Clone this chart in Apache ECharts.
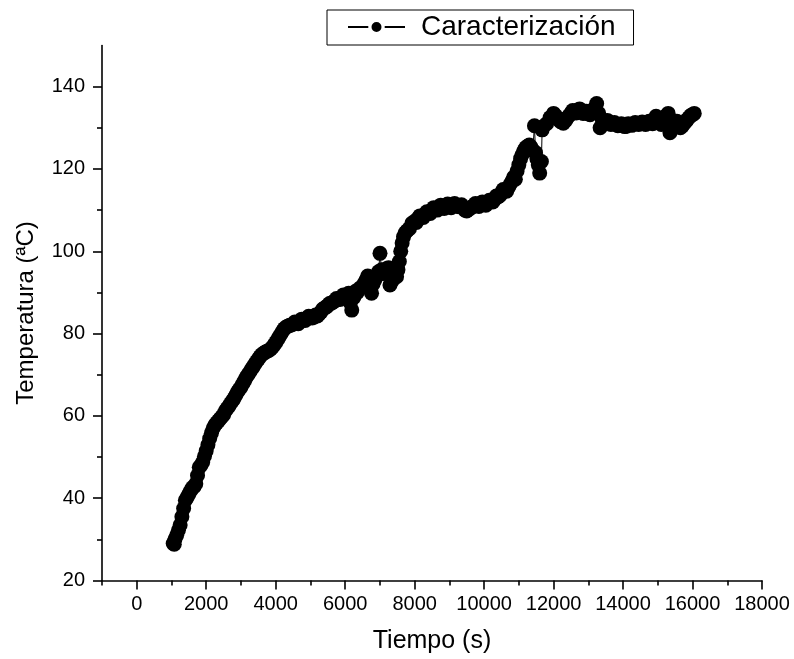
<!DOCTYPE html>
<html>
<head>
<meta charset="utf-8">
<script src="https://cdn.jsdelivr.net/npm/echarts@6/dist/echarts.min.js"></script>
<style>
  html, body { margin: 0; padding: 0; background: #fff; }
  #chart { width: 794px; height: 659px; }
</style>
</head>
<body>
<div id="chart"></div>
<script>
// Heating run: elapsed time (s) and measured temperature (ºC)
const tiempo = [
  1050, 1080, 1100, 1150, 1200, 1250, 1300, 1350, 1400, 1450,
  1500, 1550, 1600, 1650, 1700, 1750, 1800, 1850, 1900, 1950,
  2000, 2050, 2100, 2150, 2200, 2250, 2300, 2350, 2400, 2450,
  2500, 2550, 2600, 2650, 2700, 2750, 2800, 2850, 2900, 2950,
  3000, 3050, 3100, 3150, 3200, 3250, 3300, 3350, 3400, 3450,
  3500, 3550, 3600, 3650, 3700, 3750, 3800, 3850, 3900, 3950,
  4000, 4050, 4100, 4150, 4200, 4250, 4300, 4350, 4400, 4450,
  4500, 4550, 4600, 4650, 4700, 4750, 4800, 4850, 4900, 4950,
  5000, 5050, 5100, 5150, 5200, 5250, 5300, 5350, 5400, 5450,
  5500, 5550, 5600, 5650, 5700, 5750, 5800, 5850, 5900, 5950,
  6000, 6050, 6100, 6150, 6190, 6250, 6300, 6350, 6400, 6450,
  6500, 6550, 6600, 6650, 6700, 6760, 6800, 6850, 6900, 6960,
  7003, 7050, 7100, 7150, 7200, 7250, 7290, 7350, 7400, 7480,
  7520, 7560, 7600, 7640, 7680, 7730, 7780, 7850, 7920,
  8000, 8050, 8100, 8150, 8200, 8250, 8300, 8350, 8400, 8450,
  8500, 8550, 8600, 8650, 8700, 8750, 8800, 8850, 8900, 8950,
  9000, 9050, 9100, 9150, 9200, 9250, 9300, 9350, 9400, 9450,
  9500, 9550, 9600, 9650, 9700, 9750, 9800, 9850, 9900, 9950,
  10000, 10050, 10100, 10150, 10200, 10250, 10300, 10350, 10400, 10450,
  10500, 10550, 10600, 10650, 10700, 10750, 10800, 10850, 10900, 10950,
  11000, 11050, 11100, 11150, 11200, 11250, 11300, 11350, 11400, 11450,
  11480, 11520, 11560, 11600, 11650, 11670, 11700, 11800, 11900,
  12000, 12050, 12100, 12150, 12200, 12280, 12350, 12400, 12450, 12500,
  12550, 12600, 12650, 12700, 12750, 12800, 12850, 12900, 12950, 13000,
  13050, 13100, 13150, 13200, 13240, 13300, 13340, 13400, 13450, 13500,
  13550, 13600, 13650, 13700, 13750, 13800, 13850, 13900, 13950, 14000,
  14050, 14100, 14150, 14200, 14250, 14300, 14350, 14400, 14450, 14500,
  14550, 14600, 14650, 14700, 14750, 14800, 14850, 14900, 14950, 15000,
  15050, 15100, 15150, 15200, 15250, 15300, 15350, 15400, 15450, 15500,
  15550, 15600, 15650, 15700, 15750, 15800, 15850, 15900, 15950, 16000,
  16050
];
const temperatura = [
  29.0, 28.8, 30.0, 31.0, 32.2, 33.5, 35.5, 37.5, 39.5, 40.2,
  41.0, 41.8, 42.5, 42.8, 43.5, 45.5, 47.5, 48.0, 48.8, 50.2,
  51.5, 53.0, 54.5, 55.8, 57.0, 57.8, 58.3, 58.8, 59.3, 59.8,
  60.3, 61.2, 61.8, 62.3, 63.0, 63.6, 64.2, 65.0, 65.8, 66.4,
  67.0, 67.8, 68.5, 69.3, 70.0, 70.6, 71.3, 71.9, 72.6, 73.2,
  73.8, 74.4, 74.9, 75.2, 75.5, 75.7, 75.9, 76.2, 76.6, 77.2,
  77.8, 78.5, 79.2, 79.9, 80.6, 81.2, 81.6, 81.8, 82.0, 82.1,
  82.3, 82.8, 82.6, 82.4, 83.0, 83.5, 83.4, 83.2, 83.7, 84.2,
  84.0, 83.8, 84.0, 84.5, 84.3, 84.8, 85.2, 85.9, 86.2, 86.4,
  86.8, 87.3, 87.4, 87.6, 87.9, 88.5, 88.4, 88.3, 88.7, 89.4,
  89.2, 89.0, 89.8, 87.5, 85.7, 88.8, 90.3, 90.0, 90.8, 91.2,
  91.5, 92.2, 93.0, 94.0, 92.5, 89.8, 92.0, 93.0, 93.8, 95.0,
  99.5, 95.5, 94.6, 95.3, 95.8, 96.0, 91.8, 92.8, 93.5, 93.8,
  95.5, 97.5, 100.0, 102.0, 103.5, 104.5, 105.0, 105.5, 106.8,
  107.3, 107.0, 108.0, 108.6, 108.5, 108.2, 109.0, 109.6, 109.5, 109.2,
  110.0, 110.6, 110.3, 110.0, 110.6, 111.2, 110.8, 110.4, 111.0, 111.5,
  111.0, 110.6, 111.2, 111.6, 111.2, 110.9, 110.8, 111.3, 110.5, 110.0,
  109.8, 110.2, 110.4, 110.8, 111.0, 111.6, 111.2, 110.9, 111.3, 112.0,
  111.5, 111.2, 111.8, 112.4, 112.2, 112.0, 112.6, 113.4, 113.2, 113.5,
  114.2, 115.0, 114.8, 114.6, 115.5, 116.3, 117.0, 118.0, 117.5, 119.5,
  121.0, 122.5, 123.5, 124.5, 125.2, 125.5, 125.8, 125.3, 124.5, 130.5,
  124.0, 122.5, 121.0, 119.0, 121.8, 129.5, 130.3, 131.0, 132.5,
  133.5, 133.0, 132.5, 132.0, 131.5, 131.1, 131.8, 132.5, 133.0, 133.5,
  134.2, 134.0, 133.6, 134.3, 134.6, 134.0, 133.5, 133.6, 134.0, 133.4,
  133.2, 133.8, 134.5, 134.8, 135.9, 133.5, 130.0, 132.0, 131.2, 131.6,
  131.8, 131.2, 130.8, 131.0, 131.3, 130.8, 130.5, 130.6, 131.0, 130.7,
  130.3, 130.4, 131.0, 130.8, 130.6, 131.0, 131.3, 131.0, 130.8, 131.1,
  131.4, 131.0, 130.8, 131.2, 131.6, 131.5, 131.0, 132.0, 132.8, 131.5,
  131.9, 130.8, 131.2, 132.5, 133.0, 133.5, 128.8, 131.5, 130.8, 131.2,
  131.6, 130.5, 130.0, 130.4, 131.0, 131.5, 132.0, 132.5, 133.0, 133.2,
  133.5
];

// Axis ticks and labels
const xMajor = [0, 2000, 4000, 6000, 8000, 10000, 12000, 14000, 16000, 18000];
const xMinor = [-1000, 1000, 3000, 5000, 7000, 9000, 11000, 13000, 15000, 17000];
const yMajor = [20, 40, 60, 80, 100, 120, 140];
const yMinor = [30, 50, 70, 90, 110, 130];

const serie = tiempo.map((t, i) => [t, temperatura[i]]);

const FONT = 'Liberation Sans, Arial, sans-serif';
const axisColor = '#000';
const plain = v => String(v);

const chart = echarts.init(document.getElementById('chart'), null, { renderer: 'canvas' });
chart.setOption({
  animation: false,
  backgroundColor: '#fff',
  textStyle: { fontFamily: FONT, color: '#000' },
  grid: { left: 102, right: 32, top: 45.5, bottom: 78.5, containLabel: false },
  legend: {
    left: 327, top: 10,
    padding: [3, 18, 4, 20],
    borderColor: '#000', borderWidth: 1,
    itemWidth: 57, itemHeight: 16.6,
    itemStyle: { borderColor: '#fff', borderWidth: 3.3 },
    textStyle: { fontFamily: FONT, fontSize: 28, color: '#000', padding: [0, 0, 0, 11], lineHeight: 28 },
    data: ['Caracterización']
  },
  xAxis: [{
    type: 'value', min: -1000, max: 18000,
    name: 'Tiempo (s)', nameLocation: 'middle', nameGap: 48,
    nameTextStyle: { fontFamily: FONT, fontSize: 25, color: '#000' },
    axisLine: { show: true, onZero: false, lineStyle: { color: axisColor, width: 1.6 } },
    axisTick: { show: true, inside: false, length: 9, customValues: xMajor, lineStyle: { color: axisColor, width: 1.6 } },
    axisLabel: { customValues: xMajor, formatter: plain, margin: 14, fontFamily: FONT, fontSize: 20, color: '#000' },
    splitLine: { show: false }
  }, {
    type: 'value', min: -1000, max: 18000, position: 'bottom', gridIndex: 0,
    axisLine: { show: false, onZero: false },
    axisTick: { show: true, inside: false, length: 5, customValues: xMinor, lineStyle: { color: axisColor, width: 1.6 } },
    axisLabel: { show: false },
    splitLine: { show: false }
  }],
  yAxis: [{
    type: 'value', min: 20, max: 150,
    name: 'Temperatura (ªC)', nameLocation: 'middle', nameGap: 64,
    nameTextStyle: { fontFamily: FONT, fontSize: 24, color: '#000' },
    axisLine: { show: true, onZero: false, lineStyle: { color: axisColor, width: 1.6 } },
    axisTick: { show: true, inside: false, length: 9, customValues: yMajor, lineStyle: { color: axisColor, width: 1.6 } },
    axisLabel: { customValues: yMajor, formatter: plain, margin: 17, fontFamily: FONT, fontSize: 20, color: '#000' },
    splitLine: { show: false }
  }, {
    type: 'value', min: 20, max: 150, position: 'left', gridIndex: 0,
    axisLine: { show: false, onZero: false },
    axisTick: { show: true, inside: false, length: 5, customValues: yMinor, lineStyle: { color: axisColor, width: 1.6 } },
    axisLabel: { show: false },
    splitLine: { show: false }
  }],
  series: [{
    name: 'Caracterización',
    type: 'line',
    xAxisIndex: 0, yAxisIndex: 0,
    data: serie,
    symbol: 'circle', symbolSize: 15, showSymbol: true, showAllSymbol: true,
    itemStyle: { color: '#000' },
    lineStyle: { color: '#000', width: 1 },
    emphasis: { disabled: true }
  }]
});
</script>
</body>
</html>
